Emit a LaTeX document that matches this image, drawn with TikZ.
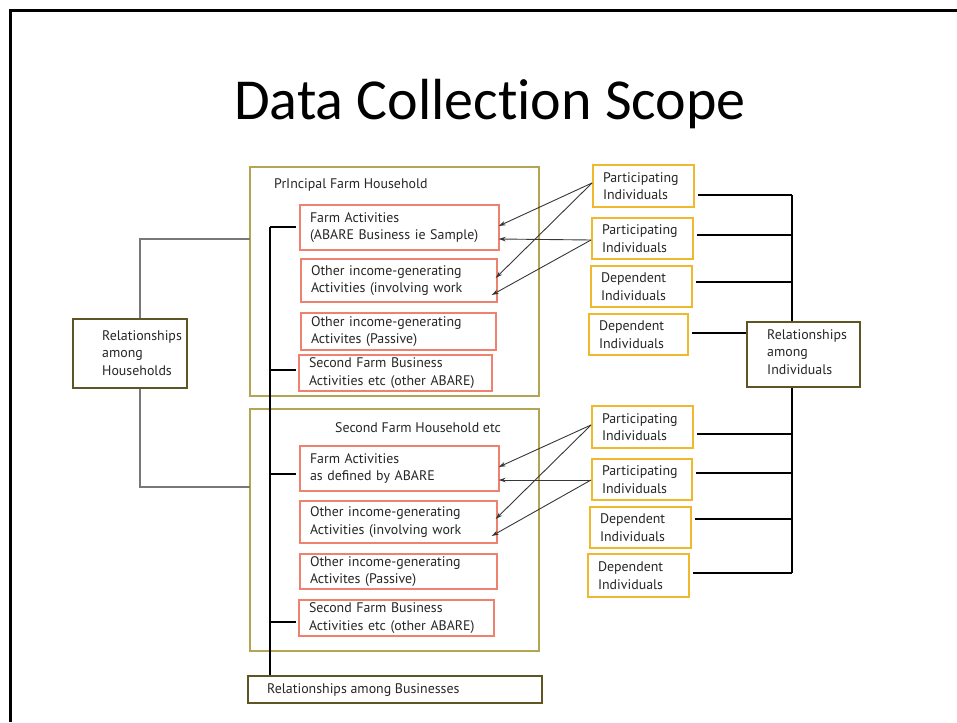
\documentclass[tikz,border=0pt]{standalone}
\usepackage{fontspec}
\setmainfont{PT Sans}
\newfontfamily\titlefont[Ligatures=NoCommon]{Carlito}
\usetikzlibrary{arrows.meta,calc}
\definecolor{hhcol}{RGB}{180,165,85}
\definecolor{redcol}{RGB}{238,130,110}
\definecolor{goldcol}{RGB}{240,185,45}
\definecolor{relcol}{RGB}{95,85,35}
\definecolor{txtcol}{RGB}{38,38,38}
\definecolor{arrcol}{RGB}{55,55,55}
\definecolor{grycol}{RGB}{120,120,120}
\begin{document}
\begin{tikzpicture}[x=1pt,y=-1pt,
  every node/.style={font=\fontsize{13.9}{17.5}\selectfont, text=txtcol},
  hhbox/.style={draw=hhcol, line width=1.6pt, inner sep=0pt},
  actbox/.style={draw=redcol, line width=1.4pt, inner xsep=10pt, inner ysep=1pt, align=left},
  indbox/.style={draw=goldcol, line width=2pt, inner xsep=10pt, inner ysep=1pt, align=left, text width=81pt},
  relbox/.style={draw=relcol, line width=1.6pt, inner sep=0pt},
  lbl/.style={anchor=west, inner sep=0pt, align=left},
  blk/.style={draw=black, line width=1.8pt},
  gry/.style={draw=grycol, line width=1.2pt},
  arr/.style={draw=arrcol, line width=0.9pt, -{Stealth[length=7pt,width=4.5pt]}}
]
\useasboundingbox (0,0) rectangle (957,722);
\draw[line width=3pt] (10.5,722) -- (10.5,10.5) -- (957,10.5);

\node[anchor=base, text=black, font=\titlefont\fontsize{58}{66}\selectfont] (title) at (490,120) {Data Collection Scope};

% households
\node[hhbox, minimum width=289pt, minimum height=229pt] (hh1) at (394.5,281.5) {};
\node[lbl] (hh1t) at (274,185) {PrIncipal Farm Household};
\node[hhbox, minimum width=289pt, minimum height=242pt] (hh2) at (394.5,530) {};
\node[lbl] (hh2t) at (335,428) {Second Farm Household etc};

% activity boxes
\node[actbox, text width=179pt, minimum height=45pt] (fa1) at (399.5,227.5) {Farm Activities\\(ABARE Business ie Sample)};
\node[actbox, text width=176pt, minimum height=43pt] (ow1) at (399,280.5) {Other income-generating\\Activities (involving work};
\node[actbox, text width=175pt, minimum height=37pt] (pa1) at (398.5,331.5) {Other income-generating\\Activites (Passive)};
\node[actbox, text width=173pt, minimum height=36pt] (sf1) at (395.5,373) {Second Farm Business\\Activities etc (other ABARE)};

\node[actbox, text width=179pt, minimum height=45pt] (fa2) at (399.5,468.5) {Farm Activities\\as defined by ABARE};
\node[actbox, text width=177pt, minimum height=42pt] (ow2) at (398.5,522) {Other income-generating\\Activities (involving work};
\node[actbox, text width=177pt, minimum height=35pt] (pa2) at (398.5,571.5) {Other income-generating\\Activites (Passive)};
\node[actbox, text width=175pt, minimum height=36pt] (sf2) at (396.5,618) {Second Farm Business\\Activities etc (other ABARE)};

% relationships boxes
\node[relbox, minimum width=294pt, minimum height=27pt] (bus) at (395,689.5) {};
\node[lbl] (bust) at (267,690) {Relationships among Businesses};
\node[relbox, minimum width=114pt, minimum height=69pt] (relH) at (130,353.5) {};
\node[lbl] (relHt) at (102,353) {Relationships\\among\\Households};
\node[relbox, minimum width=113pt, minimum height=65pt] (relI) at (803.5,354.5) {};
\node[lbl] (relIt) at (767,352) {Relationships\\among\\Individuals};

% individuals
\node[indbox, minimum height=42pt] (P1) at (643.5,186) {Participating\\Individuals};
\node[indbox, minimum height=41pt] (P2) at (642.5,238.5) {Participating\\Individuals};
\node[indbox, minimum height=41pt] (D1) at (641.5,286.5) {Dependent\\Individuals};
\node[indbox, minimum height=41pt, text width=79pt] (D2) at (638.5,334.5) {Dependent\\Individuals};
\node[indbox, minimum height=42pt] (P3) at (642.5,427) {Participating\\Individuals};
\node[indbox, minimum height=41pt, text width=80pt] (P4) at (642,479.5) {Participating\\Individuals};
\node[indbox, minimum height=41pt] (D3) at (640.5,527.5) {Dependent\\Individuals};
\node[indbox, minimum height=43pt] (D4) at (638.5,575.5) {Dependent\\Individuals};

% arrows
\draw[arr] ($(P1.west)+(0,-3)$) -- ($(fa1.east)+(-1,-1.5)$);
\draw[arr] ($(P1.west)+(0,-3)$) -- ($(ow1.east)+(-2,-2.5)$);
\draw[arr] ($(P2.west)+(0,1.5)$) -- ($(fa1.east)+(-1,11.5)$);
\draw[arr] ($(P2.west)+(0,1.5)$) -- ($(ow1.east)+(-6,14.5)$);
\draw[arr] ($(P3.west)+(0,-2)$) -- ($(fa2.east)+(-1,-1.5)$);
\draw[arr] ($(P3.west)+(0,-2)$) -- ($(ow2.east)+(-2,-3)$);
\draw[arr] ($(P4.west)+(0,0.5)$) -- ($(fa2.east)+(-1,11.5)$);
\draw[arr] ($(P4.west)+(0,0.5)$) -- ($(ow2.east)+(-6,14)$);

% right trunk
\coordinate (rt1) at (792,195);
\coordinate (rt8) at (792,573);
\coordinate (p1o) at ($(P1.east)+(3,9)$);
\coordinate (p2o) at ($(P2.east)+(3,-3.5)$);
\coordinate (d1o) at ($(D1.east)+(3,-4.5)$);
\coordinate (d2o) at ($(D2.east)+(3,-1.5)$);
\coordinate (p3o) at ($(P3.east)+(3,7)$);
\coordinate (p4o) at ($(P4.east)+(3,-6.5)$);
\coordinate (d3o) at ($(D3.east)+(3,-8.5)$);
\coordinate (d4o) at ($(D4.east)+(3,-2.5)$);
\draw[blk] (p1o) -- (p1o -| rt1);
\draw[blk] (p2o) -- (p2o -| rt1);
\draw[blk] (d1o) -- (d1o -| rt1);
\draw[blk] (d2o) -- (d2o -| relI.west);
\draw[blk] (p3o) -- (p3o -| rt1);
\draw[blk] (p4o) -- (p4o -| rt1);
\draw[blk] (d3o) -- (d3o -| rt1);
\draw[blk] (d4o) -- (d4o -| rt1);
\draw[blk] (rt1) -- (rt1 |- relI.north);
\draw[blk] (rt1 |- relI.south) -- (rt8);

% left trunk
\coordinate (lt0) at (270,227);
\coordinate (s1) at ($(fa1.west)+(-3,-0.5)$);
\coordinate (s2) at ($(sf1.west)+(-2,-3)$);
\coordinate (s3) at ($(fa2.west)+(-3,5.5)$);
\coordinate (s4) at ($(sf2.west)+(-2,4)$);
\draw[blk] (lt0) -- (lt0 |- bus.north);
\draw[blk] (s1) -- (s1 -| lt0);
\draw[blk] (s2) -- (s2 -| lt0);
\draw[blk] (s3) -- (s3 -| lt0);
\draw[blk] (s4) -- (s4 -| lt0);

% households connectors
\coordinate (gA) at (250,239);
\coordinate (gB) at (250,487);
\coordinate (g1) at ($(relH.north)+(10,0)$);
\coordinate (g2) at ($(relH.south)+(10,0)$);
\draw[gry] (g1) |- (gA);
\draw[gry] (g2) |- (gB);
\end{tikzpicture}
\end{document}
